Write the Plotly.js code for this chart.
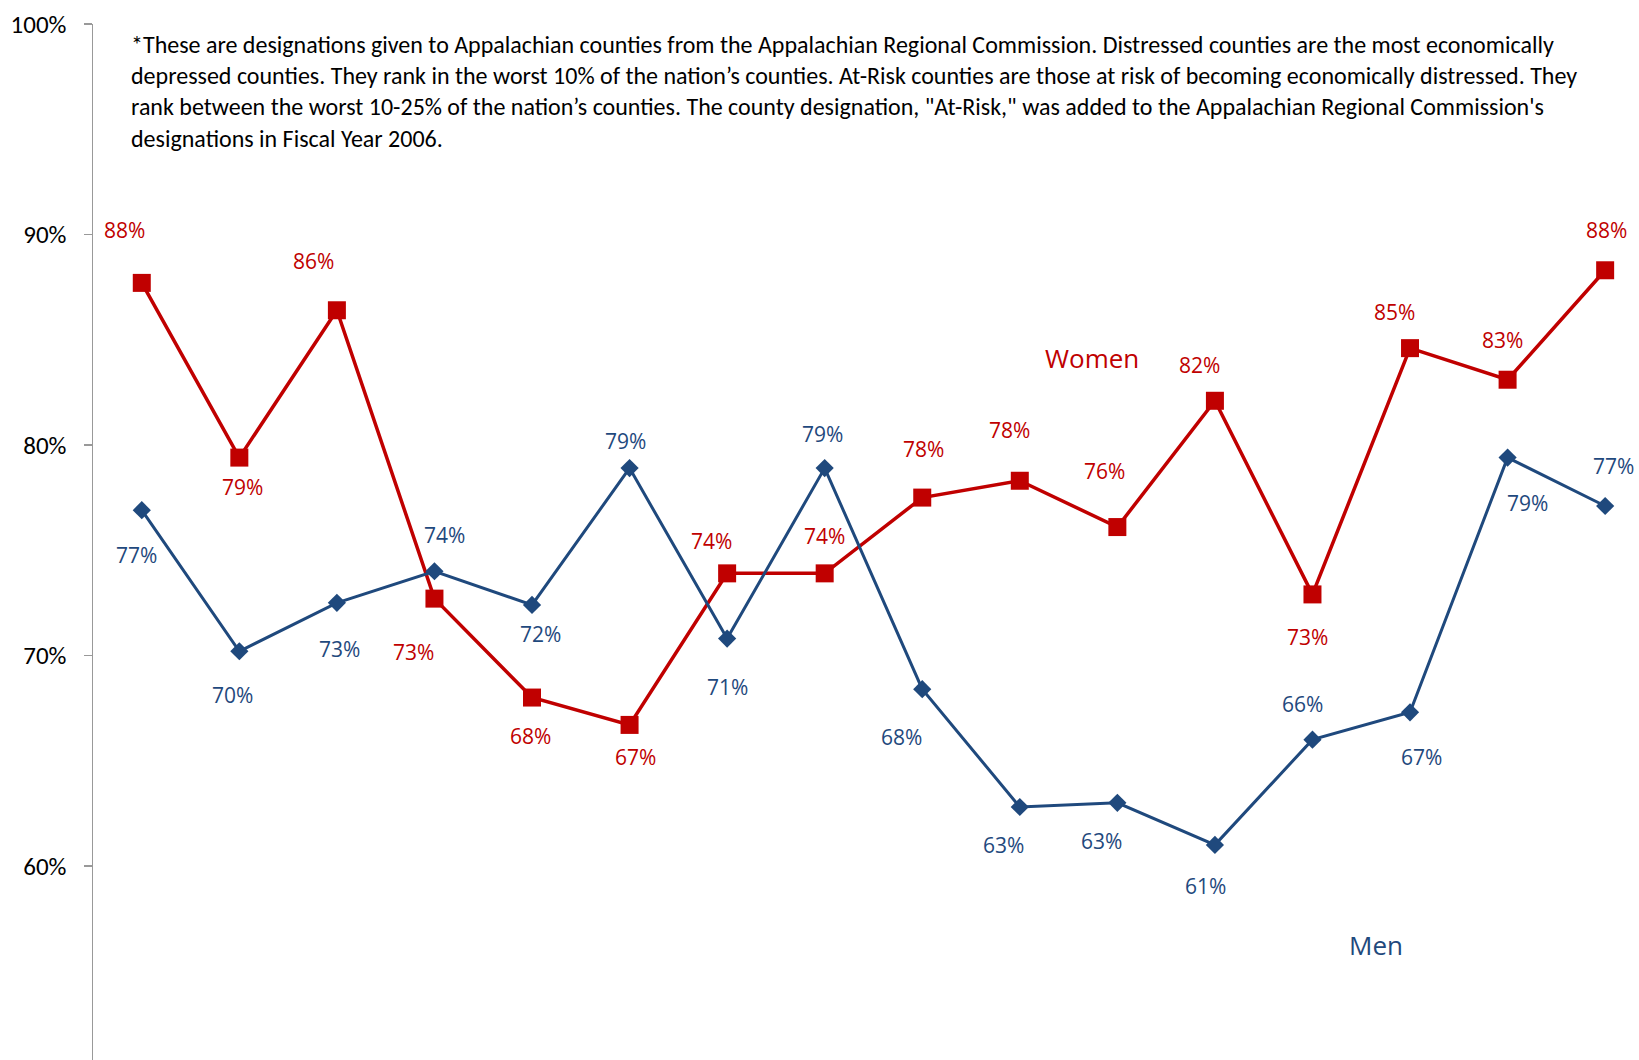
<!DOCTYPE html>
<html>
<head>
<meta charset="utf-8">
<script src="https://cdn.plot.ly/plotly-3.0.1.min.js"></script>
<style>html,body{margin:0;padding:0;background:#fff;}#chart{width:1639px;height:1060px;}</style>
</head>
<body>
<div id="chart"></div>
<script>
// ---- data ----
const categories = ["1","2","3","4","5","6","7","8","9","10","11","12","13","14","15","16"];
const women = [87.7, 79.4, 86.4, 72.7, 68.0, 66.7, 73.9, 73.9, 77.5, 78.3, 76.1, 82.1, 72.9, 84.6, 83.1, 88.3];
const men   = [76.9, 70.2, 72.5, 74.0, 72.4, 78.9, 70.8, 78.9, 68.4, 62.8, 63.0, 61.0, 66.0, 67.3, 79.4, 77.1];
const yTickVals = [60, 70, 80, 90, 100];
const yTickText = ["60%", "70%", "80%", "90%", "100%"];
const noteText = "*These are designations given to Appalachian counties from the Appalachian Regional Commission. Distressed counties are the most economically<br>depressed counties. They rank in the worst 10% of the nation\u2019s counties. At-Risk counties are those at risk of becoming economically distressed. They<br>rank between the worst 10-25% of the nation\u2019s counties. The county designation, \"At-Risk,\" was added to the Appalachian Regional Commission's<br>designations in Fiscal Year 2006.";

// ---- label styling (pixel offsets of the value labels) ----
const womenLabelShift = [[-17,-53],[3,29],[-23,-49],[-21,53],[-2,38],[6,32],[-16,-32],[0,-37],[1,-49],[-10,-51],[-13,-56],[-15,-36],[-5,43],[-16,-36],[-5,-40],[1,-40]];
const menLabelShift   = [[-5,45],[-7,44],[3,46],[10,-36],[8,29],[-4,-27],[0,48],[-2,-34],[-21,48],[-16,38],[-16,38],[-9,41],[-10,-36],[11,45],[20,45],[8,-40]];

const RED = "#C00000", BLUE = "#1F497D";
const xIdx = categories.map((c, i) => i);

const traces = [
  {x: xIdx, y: women, type: "scatter", mode: "lines+markers", name: "Women",
   line: {color: RED, width: 3.5}, marker: {symbol: "square", size: 18, color: RED}, cliponaxis: false},
  {x: xIdx, y: men, type: "scatter", mode: "lines+markers", name: "Men",
   line: {color: BLUE, width: 3}, marker: {symbol: "diamond", size: 14, color: BLUE}, cliponaxis: false}
];

const labelFont = {family: "Open Sans, Noto Sans, sans-serif", size: 21};
const annotations = [];
women.forEach((v, i) => annotations.push({x: xIdx[i], y: v, xref: "x", yref: "y", text: Math.round(v) + "%",
  showarrow: false, xshift: womenLabelShift[i][0], yshift: -womenLabelShift[i][1], font: Object.assign({color: RED}, labelFont)}));
men.forEach((v, i) => annotations.push({x: xIdx[i], y: v, xref: "x", yref: "y", text: Math.round(v) + "%",
  showarrow: false, xshift: menLabelShift[i][0], yshift: -menLabelShift[i][1], font: Object.assign({color: BLUE}, labelFont)}));
annotations.push({xref: "paper", yref: "paper", x: 0.0234, y: 1.0, xanchor: "left", yanchor: "top", align: "left",
  text: noteText, showarrow: false, font: {family: "Carlito, Lato, sans-serif", size: 24, color: "#000"}, yshift: -4});
annotations.push({xref: "paper", yref: "paper", x: 0.646, y: 0.697, text: "Women", showarrow: false,
  font: {family: "Open Sans, Noto Sans, sans-serif", size: 26, color: RED}});
annotations.push({xref: "paper", yref: "paper", x: 0.8485, y: 0.0919, text: "Men", showarrow: false,
  font: {family: "Open Sans, Noto Sans, sans-serif", size: 26, color: BLUE}});

const layout = {
  width: 1639, height: 1060,
  margin: {l: 93, r: 0, t: 24, b: 0},
  paper_bgcolor: "#fff", plot_bgcolor: "#fff",
  showlegend: false,
  xaxis: {range: [-0.5, 15.347], showgrid: false, zeroline: false, showline: false, showticklabels: false, ticks: ""},
  yaxis: {range: [50.78, 100], tickvals: yTickVals, ticktext: yTickText, showgrid: false, zeroline: false,
    showline: true, linecolor: "#999999", linewidth: 1.5, ticks: "outside", ticklen: 8, tickcolor: "#999999", tickwidth: 1.5,
    ticklabelstandoff: 12, tickfont: {family: "Carlito, Lato, sans-serif", size: 25, color: "#000"}},
  annotations: annotations
};
Plotly.newPlot("chart", traces, layout, {displayModeBar: false, staticPlot: true});
</script>
</body>
</html>
